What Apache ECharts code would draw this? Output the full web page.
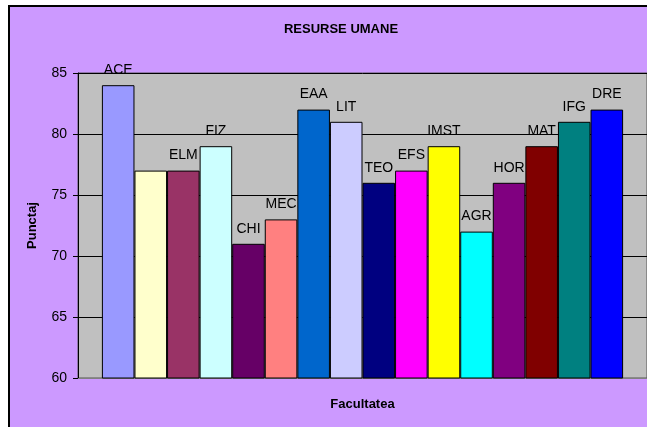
<!DOCTYPE html>
<html>
<head>
<meta charset="utf-8">
<script src="https://cdn.jsdelivr.net/npm/echarts@6/dist/echarts.min.js"></script>
<style>
  html, body { margin: 0; padding: 0; background: #fff; }
  #chart { width: 647px; height: 427px; }
</style>
</head>
<body>
<div id="chart"></div>
<script>
var facultati = ['ACE', '', 'ELM', 'FIZ', 'CHI', 'MEC', 'EAA', 'LIT', 'TEO', 'EFS', 'IMST', 'AGR', 'HOR', 'MAT', 'IFG', 'DRE'];
var punctaj = [84, 77, 77, 79, 71, 73, 82, 81, 76, 77, 79, 72, 76, 79, 81, 82];
var culori = ['#9999FF', '#FFFFCC', '#993366', '#CCFFFF', '#660066', '#FF8080', '#0066CC', '#CCCCFF',
              '#000080', '#FF00FF', '#FFFF00', '#00FFFF', '#800080', '#800000', '#008080', '#0000FF'];
var yTicks = { min: 60, max: 85, step: 5 };

var font = 'Liberation Sans, Arial, sans-serif';
var myChart = echarts.init(document.getElementById('chart'));

var series = facultati.map(function (nume, i) {
    return {
        type: 'bar',
        name: 'f' + i,
        data: [punctaj[i]],
        barGap: '0%',
        barCategoryGap: '8.4%',
        itemStyle: { color: culori[i], borderColor: '#000', borderWidth: 1 },
        label: {
            show: true,
            position: 'top',
            distance: 8,
            color: '#000',
            fontFamily: font,
            fontSize: 14,
            formatter: function () { return nume; }
        }
    };
});

var option = {
    backgroundColor: '#fff',
    animation: false,
    graphic: [{
        type: 'rect',
        z: -10,
        shape: { x: 9, y: 6, width: 700, height: 500 },
        style: { fill: '#CC99FF', stroke: '#000', lineWidth: 2 }
    }],
    title: {
        text: 'RESURSE UMANE',
        left: 336,
        top: 18,
        textAlign: 'center',
        textStyle: { color: '#000', fontWeight: 'bold', fontSize: 13, fontFamily: font }
    },
    grid: {
        left: 78, top: 73, right: 0, bottom: 49,
        show: true,
        backgroundColor: '#C0C0C0',
        borderColor: '#555',
        borderWidth: 1
    },
    xAxis: {
        type: 'category',
        data: [''],
        name: 'Facultatea',
        nameLocation: 'middle',
        nameGap: 20,
        nameTextStyle: { color: '#000', fontWeight: 'bold', fontSize: 13, fontFamily: font },
        axisLine: { lineStyle: { color: '#808080', width: 1 } },
        axisTick: { show: false },
        axisLabel: { show: false }
    },
    yAxis: {
        type: 'value',
        min: yTicks.min,
        max: yTicks.max,
        interval: yTicks.step,
        name: 'Punctaj',
        nameLocation: 'middle',
        nameGap: 39,
        nameTextStyle: { color: '#000', fontWeight: 'bold', fontSize: 13, fontFamily: font },
        axisLine: { show: true, lineStyle: { color: '#000' } },
        axisTick: { show: true, length: 5, lineStyle: { color: '#000' } },
        axisLabel: { color: '#000', fontSize: 14, fontFamily: font, margin: 11 },
        splitLine: { lineStyle: { color: '#000', width: 1 } }
    },
    series: series
};

myChart.setOption(option);
</script>
</body>
</html>
